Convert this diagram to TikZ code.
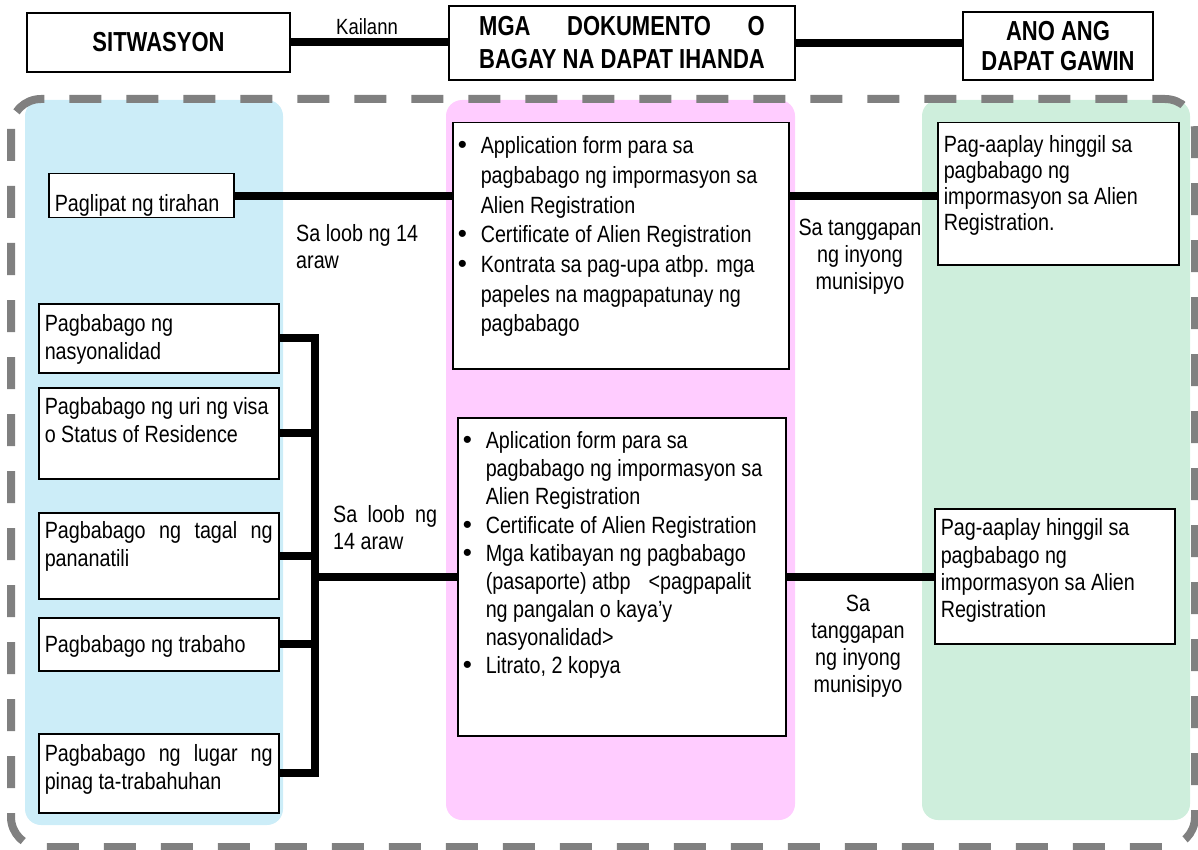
\documentclass[tikz,border=0pt]{standalone}
\usepackage{fontspec}
\setmainfont{Liberation Sans}[FakeStretch=0.84]
\newfontfamily\hdrfont{Liberation Sans}[FakeStretch=0.8]
\newfontfamily\bulfont{Liberation Sans}
\definecolor{bluepanel}{RGB}{204,237,248}
\definecolor{pinkpanel}{RGB}{255,204,255}
\definecolor{greenpanel}{RGB}{206,238,220}
\definecolor{framegray}{RGB}{128,128,128}
\newlength\hdw
\newcommand\tbx[5]{\parbox[c][#2][t]{#1}{\fontsize{23.5}{#3}\selectfont\rule{0pt}{#4}#5}}
\newcommand\docitem[1]{\hangindent=22pt\hangafter=1\noindent\makebox[22pt][l]{\hspace{-1pt}{\bulfont\fontsize{26}{26}\selectfont\textbullet}}#1\par}
\newcommand\lbtext[2]{\parbox[t]{#1}{\fontsize{23.5}{27}\selectfont #2}}
\tikzset{
  conn/.style={line width=8pt, line join=miter},
  bx/.style={draw, line width=1.5pt, fill=white, anchor=north west, inner xsep=6pt, inner ysep=4pt},
  hdr/.style={draw, line width=1.5pt, fill=white, inner sep=0pt, align=center,
    font=\hdrfont\bfseries\fontsize{27.5}{33}\selectfont},
  panel/.style={rounded corners=16pt},
  frame/.style={draw=framegray, line width=8pt, dash pattern=on 32pt off 25pt, rounded corners=30pt},
  lbl/.style={inner sep=0pt}
}
\begin{document}
\settowidth{\hdw}{\hdrfont\bfseries\fontsize{27.5}{33}\selectfont BAGAY NA DAPAT IHANDA}
\begin{tikzpicture}[x=1pt,y=-1pt]
\useasboundingbox (0,0) rectangle (1198,850);
% panels
\fill[panel, bluepanel] (25,100) rectangle (283,825);
\fill[panel, pinkpanel] (446,100) rectangle (795,820);
\fill[panel, greenpanel] (922,100) rectangle (1190,820);
% dashed frame
\draw[frame] (11,99) rectangle (1195,847);

% header
\node[hdr, minimum width=263pt, minimum height=59pt] (sit) at (158.5,42.5) {SITWASYON};
\node[hdr, minimum width=346pt, minimum height=74pt] (mga) at (622,43) {\makebox[\hdw][s]{MGA DOKUMENTO O}\\BAGAY NA DAPAT IHANDA};
\node[hdr, minimum width=190pt, minimum height=68pt, font=\hdrfont\bfseries\fontsize{27.5}{30}\selectfont] (ano) at (1058,46) {ANO ANG\\DAPAT GAWIN};
\node[lbl, font=\fontsize{22}{25}\selectfont] (kail) at (367,27) {Kailann};

% left column
\node[bx] (pag) at (48,173) {\tbx{173pt}{36pt}{28pt}{34pt}{Paglipat ng tirahan}};
\node[bx] (nas) at (38,303) {\tbx{228pt}{61pt}{28pt}{24pt}{Pagbabago ng\\nasyonalidad}};
\node[bx] (visa) at (38,387) {\tbx{228pt}{83pt}{28pt}{23pt}{Pagbabago ng uri ng visa\\o Status of Residence}};
\node[bx] (tagal) at (38,512) {\tbx{228pt}{78pt}{28pt}{22pt}{\makebox[\linewidth][s]{Pagbabago ng tagal ng}\\pananatili}};
\node[bx] (trab) at (38,617) {\tbx{228pt}{45pt}{28pt}{31pt}{Pagbabago ng trabaho}};
\node[bx] (lugar) at (38,733) {\tbx{228pt}{71pt}{28pt}{24pt}{\makebox[\linewidth][s]{Pagbabago ng lugar ng}\\pinag ta-trabahuhan}};

% middle column
\node[bx] (docs1) at (452,122) {\tbx{324pt}{238pt}{29.7pt}{27pt}{%
\docitem{Application form para sa\\pagbabago ng impormasyon sa\\Alien Registration}%
\docitem{Certificate of Alien Registration}%
\docitem{Kontrata sa pag-upa atbp. mga\\papeles na magpapatunay ng\\pagbabago}}};
\node[bx] (docs2) at (457,417) {\tbx{316pt}{310pt}{28.1pt}{27pt}{%
\docitem{Aplication form para sa\\pagbabago ng impormasyon sa\\Alien Registration}%
\docitem{Certificate of Alien Registration}%
\docitem{Mga katibayan ng pagbabago\\(pasaporte) atbp\hspace{18pt}<pagpapalit\\ng pangalan o kaya’y\\nasyonalidad>}%
\docitem{Litrato, 2 kopya}}};

% right column
\node[bx] (act1) at (937,122) {\tbx{229pt}{134pt}{26pt}{26pt}{Pag-aaplay hinggil sa\\pagbabago ng\\impormasyon sa Alien\\Registration.}};
\node[bx] (act2) at (934,508) {\tbx{228pt}{127pt}{27.3pt}{23pt}{Pag-aaplay hinggil sa\\pagbabago ng\\impormasyon sa Alien\\Registration}};

% labels
\node[lbl, anchor=base west] (lb1) at (296,242) {\lbtext{140pt}{Sa loob ng 14\\araw}};
\node[lbl, anchor=base] (lb2) at (860,236) {\lbtext{130pt}{\centering Sa tanggapan\\ng inyong\\munisipyo}};
\node[lbl, anchor=base west] (lb3) at (333,522) {\lbtext{104pt}{Sa\hfill loob\hfill ng\\14 araw}};
\node[lbl, anchor=base] (lb4) at (858,611) {\lbtext{130pt}{\centering Sa\\tanggapan\\ng inyong\\munisipyo}};

% connectors
\coordinate (bus) at (315,0);
\draw[conn] (sit.east) -- (sit.east -| mga.west);
\draw[conn] (mga.east) -- (mga.east -| ano.west);
\draw[conn] (pag.east) -- (pag.east -| docs1.west);
\draw[conn] (docs1.east |- pag.east) -- (act1.west |- pag.east);
\draw[conn] (nas.east) -- (nas.east -| bus) -- (lugar.east -| bus) -- (lugar.east);
\draw[conn] (visa.east) -- (visa.east -| bus);
\draw[conn] (tagal.east) -- (tagal.east -| bus);
\draw[conn] (trab.east) -- (trab.east -| bus);
\draw[conn] (docs2.west) -- (docs2.west -| bus);
\draw[conn] (docs2.east) -- (act2.west |- docs2.east);
\end{tikzpicture}
\end{document}
